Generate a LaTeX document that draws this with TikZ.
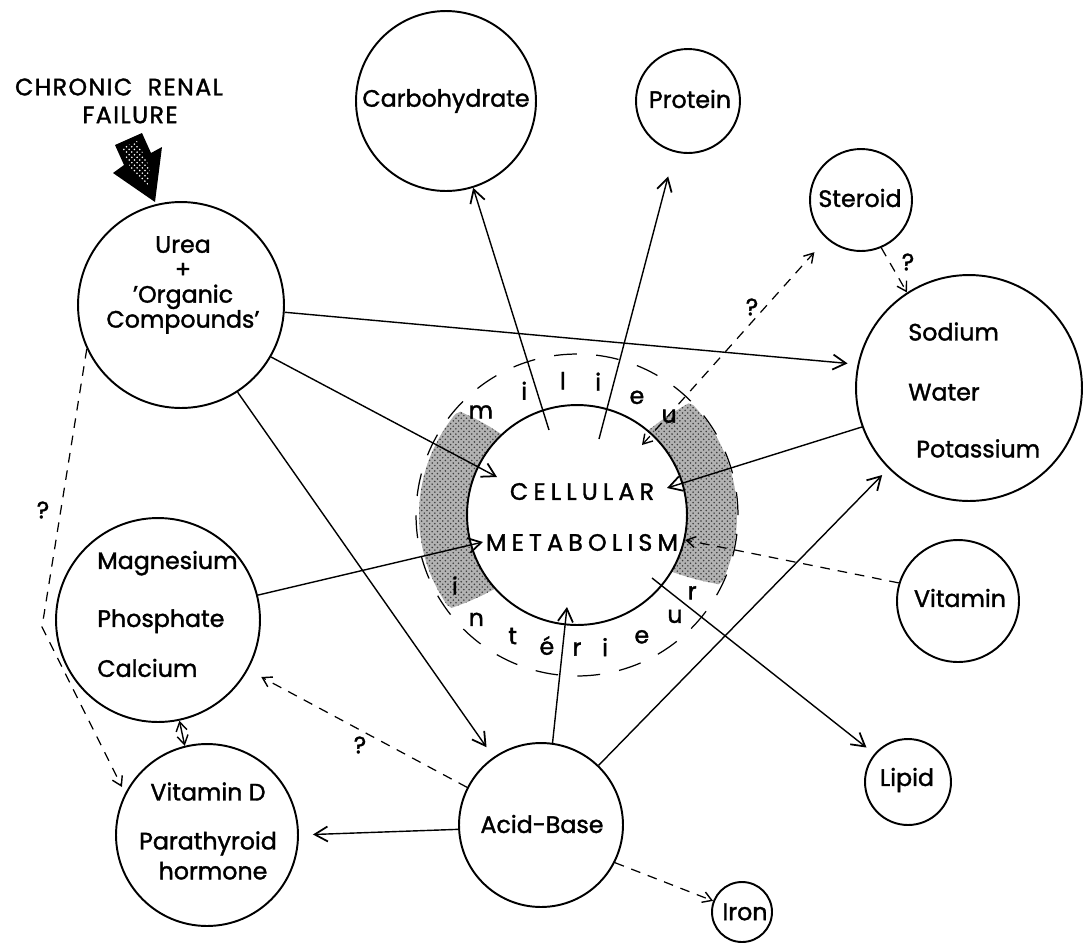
\documentclass[tikz,border=0pt]{standalone}
\usepackage{fontspec}
\setmainfont{Poppins}[FakeBold=1.5]
\usetikzlibrary{arrows.meta,patterns}

\tikzset{
    bigbarb/.tip={Straight Barb[length=2.6mm,width=3mm,line width=1pt]},
    smallbarb/.tip={Straight Barb[length=1.8mm,width=2.2mm,line width=0.8pt]},
    bubble/.style={draw, circle, line width=1.1pt, inner sep=0pt, minimum size=#1},
    word/.style={font=\fontsize{13.5}{14.2}\selectfont, inner sep=0pt},
    crfword/.style={font=\fontsize{13.5}{14.2}\selectfont\addfontfeatures{LetterSpace=6}, inner sep=0pt},
    cellword/.style={font=\fontsize{13.5}{14.2}\selectfont\addfontfeatures{LetterSpace=22}, inner sep=0pt},
    flow/.style={line width=0.8pt, -bigbarb},
    maybe/.style={line width=0.7pt, dash pattern=on 5.5pt off 4.5pt, -smallbarb},
    ringline/.style={line width=0.7pt, dash pattern=on 13pt off 11pt},
    stipple/.style={fill=black!30, postaction={pattern=crosshatch dots, pattern color=black!75}},
}

\begin{document}
\begin{tikzpicture}[x=0.02cm, y=-0.02cm]
    \useasboundingbox (0,0) rectangle (1090,948);

    % milieu interieur
    \path[stipple] plot[domain=133:222, samples=50] ({577+(110+48*min(1,5*sin(180*(\x-133)/89)))*cos(\x)}, {515-(110+48*min(1,5*sin(180*(\x-133)/89)))*sin(\x)})
        -- plot[domain=222:133, samples=20] ({577+110*cos(\x)}, {515-110*sin(\x)}) -- cycle;
    \path[stipple] plot[domain=-31:50, samples=50] ({577+(110+50*min(1,5*sin(180*(\x+31)/81)))*cos(\x)}, {515-(110+50*min(1,5*sin(180*(\x+31)/81)))*sin(\x)})
        -- plot[domain=50:-31, samples=20] ({577+110*cos(\x)}, {515-110*sin(\x)}) -- cycle;
    \draw[ringline] (577,515) circle[radius=3.22cm];
    \foreach \ch/\ang/\rad [count=\k] in {m/133/141, i/113/135, l/96/135, i/81/135, e/63/132, u/47/135,
        i/210/141, n/226/145, t/242/137, é/257/134, r/270/134, i/282/135, e/298/138, u/314/141, r/326/139}
        \node[word] (ring\k) at ({577+\rad*cos(\ang)}, {515-\rad*sin(\ang)}) {\ch};

    \node[bubble=3.6cm] (carb) at (446,101) {};
    \node[bubble=2.08cm] (prot) at (688,101) {};
    \node[bubble=2.04cm] (ster) at (861,200) {};
    \node[bubble=4.12cm] (urea) at (181,305) {};
    \node[bubble=4.52cm] (sodium) at (969,388) {};
    \node[bubble=4.4cm] (cell) at (577,515) {};
    \node[bubble=4.08cm] (magn) at (158,620) {};
    \node[bubble=3.64cm] (vitd) at (207,835) {};
    \node[bubble=3.28cm] (acid) at (541,825) {};
    \node[bubble=2.44cm] (vita) at (958,601) {};
    \node[bubble=1.72cm] (lipid) at (908,782) {};
    \node[bubble=1.2cm] (iron) at (742,912) {};

    \node[word] (carbtext) at (446,101) {Carbohydrate};
    \node[word] (prottext) at (690,99) {Protein};
    \node[word] (stertext) at (860,198) {Steroid};
    \node[word, align=center] (ureatext) at (183,285) {Urea\\+\\'Organic\\Compounds'};
    \node[word, align=left, anchor=west] (sodiumtext) at (908,390) {Sodium\\[0.7cm]Water\\[0.64cm]\hspace{0.16cm}Potassium};
    \node[word, align=left, anchor=west] (magntext) at (97,614) {Magnesium\\[0.66cm]Phosphate\\[0.5cm]Calcium};
    \node[word, align=center] (vitdtext) at (208,831) {Vitamin D\\[0.48cm]Parathyroid\\[0.1cm]\hspace{0.2cm}hormone};
    \node[word] (acidtext) at (542,824) {Acid-Base};
    \node[word] (vitatext) at (960,598) {Vitamin};
    \node[word] (lipidtext) at (907,780) {Lipid};
    \node[word] (irontext) at (745,912) {Iron};
    \node[cellword, align=center] (celltext) at (582,517) {CELLULAR\\[0.52cm]METABOLISM};

    \node[crfword] (crfa) at (119,87) {CHRONIC\ \ RENAL};
    \node[crfword] (crfb) at (130,115) {FAILURE};
    \fill (115,145) -- (142,133) -- (151,153) -- (162,147) -- (155,202) -- (113,173) -- (124,165) -- cycle;
    \fill[pattern=crosshatch dots, pattern color=white] (122,148) -- (137,141) -- (150,168) -- (148,188) -- (130,167) -- cycle;

    \node[word] (qa) at (43,510) {?};
    \node[word] (qb) at (752,307) {?};
    \node[word] (qc) at (908,262) {?};
    \node[word] (qd) at (360,745) {?};

    \coordinate (cellA) at (549,430);
    \coordinate (cellB) at (599,439);
    \coordinate (cellC) at (642,445);
    \coordinate (cellD) at (497,477);
    \coordinate (cellE) at (483,542);
    \coordinate (cellF) at (567,607);
    \coordinate (cellG) at (667,488);
    \coordinate (cellH) at (652,578);
    \coordinate (bend) at (42,627);

    \draw[flow] (cellA) -- (carb);
    \draw[flow, shorten >=0.5cm] (cellB) -- (prot);
    \draw[maybe, smallbarb-smallbarb, shorten >=0.36cm] (cellC) -- (ster);
    \draw[maybe] (ster.-67) -- (sodium.123);
    \draw[flow, shorten >=0.2cm] (urea.-4) -- (sodium.168);
    \draw[flow] (urea.-30) -- (cellD);
    \draw[flow, shorten >=0.24cm] (urea.-57) -- (acid.125);
    \draw[maybe, shorten >=0.14cm] (urea.205) -- (bend) -- (vitd.153);
    \draw[flow] (magn.14) -- (cellE);
    \draw[line width=0.8pt, smallbarb-smallbarb] (magn.-78) -- (vitd.104);
    \draw[maybe, shorten >=0.3cm] (acid.153) -- (magn.-29);
    \draw[flow, shorten >=0.28cm] (acid.183) -- (vitd.0);
    \draw[flow] (acid.82) -- (cellF);
    \draw[flow, shorten >=0.18cm] (acid.46) -- (sodium.-135);
    \draw[flow] (sodium.200) -- (cellG);
    \draw[maybe] (vita.163) -- (cell.-13);
    \draw[flow, shorten >=0.2cm] (cellH) -- (lipid.140);
    \draw[maybe] (acid.-27) -- (iron.159);
\end{tikzpicture}
\end{document}
